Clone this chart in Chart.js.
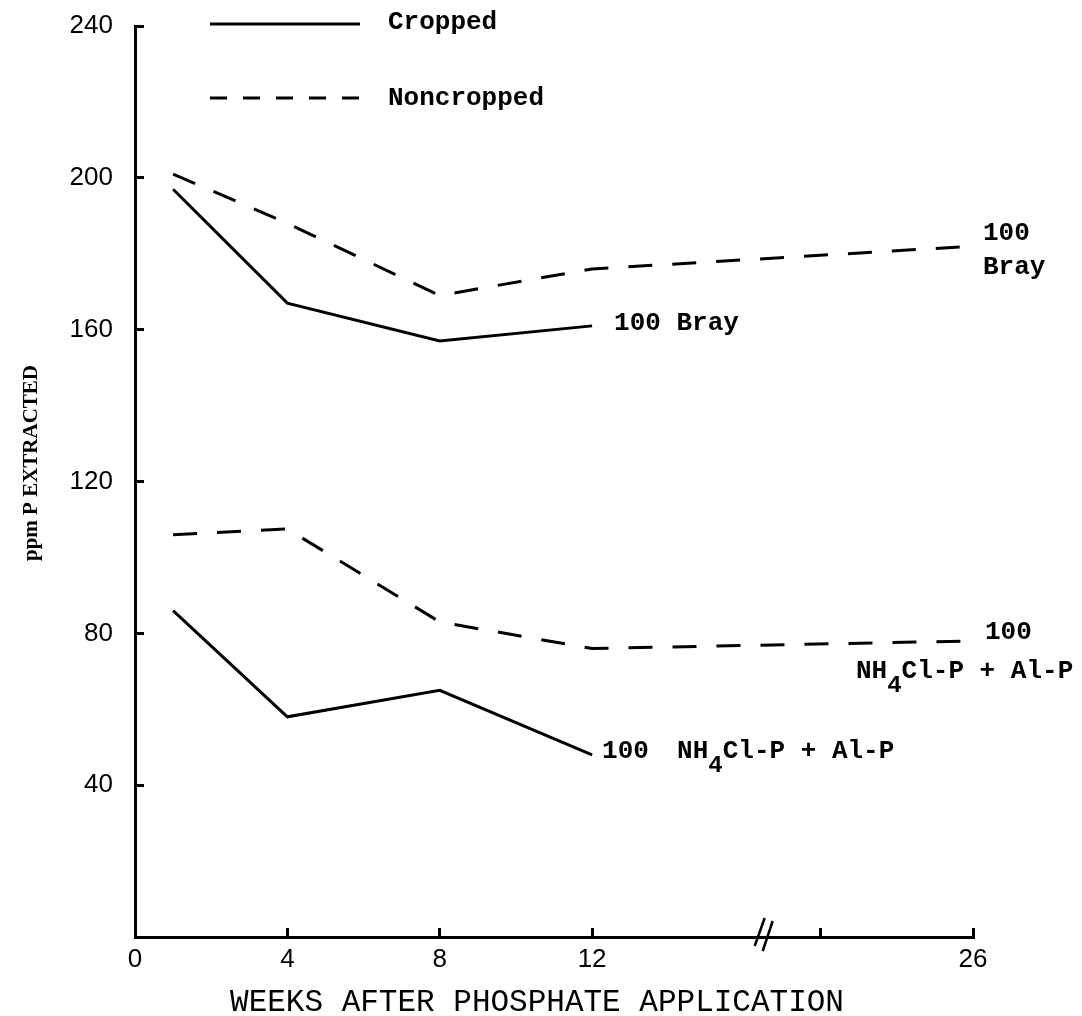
<!DOCTYPE html>
<html>
<head>
<meta charset="utf-8">
<title>ppm P extracted</title>
<script src="https://cdn.jsdelivr.net/npm/chart.js@4.4.1/dist/chart.umd.min.js"></script>
<style>
  body { margin: 0; background: #fff; }
  #wrap { width: 1082px; height: 1016px; }
</style>
</head>
<body>
<div id="wrap"><canvas id="myChart" width="1082" height="1016"></canvas></div>
<script>
// weeks after phosphate application
const weeksCropped = [1, 4, 8, 12];
const weeksNoncropped = [1, 4, 8, 12, 26];

// ppm P extracted
const brayCropped = [197, 167, 157, 161];
const brayNoncropped = [201, 188, 169, 176, 182];
const nh4Cropped = [86, 58, 65, 48];
const nh4Noncropped = [106, 107.5, 83, 76, 78];

// axis ticks (x axis is broken between 12 and 22 weeks)
const xTickWeeks = [0, 4, 8, 12, 22, 26];
const xTickLabels = ["0", "4", "8", "12", "", "26"];
const yTicks = [0, 40, 80, 120, 160, 200, 240];

const breakFrom = 12;
const breakGap = 4;

// weeks past the break are pulled left by breakGap
function axisPos(week) {
  return week <= breakFrom ? week : week - breakGap;
}

function toPoints(weeks, values) {
  return weeks.map((w, i) => ({ x: axisPos(w), y: values[i] }));
}

const mono = "'Liberation Mono', 'DejaVu Sans Mono', monospace";
const sans = "'Liberation Sans', Arial, sans-serif";
const labelFont = "bold 26px " + mono;

// draws "NH4Cl-P + Al-P" with the 4 set low
function drawChem(ctx, x, y) {
  ctx.font = labelFont;
  ctx.fillText("NH", x, y);
  let cx = x + ctx.measureText("NH").width;
  ctx.font = "bold 24px " + mono;
  ctx.fillText("4", cx, y + 14);
  cx += ctx.measureText("4").width;
  ctx.font = labelFont;
  ctx.fillText("Cl-P + Al-P", cx, y);
}

const annotations = {
  id: "annotations",
  afterDraw(chart) {
    const ctx = chart.ctx;
    const xs = chart.scales.x;
    const ys = chart.scales.y;
    ctx.save();
    ctx.fillStyle = "#000";
    ctx.strokeStyle = "#000";
    ctx.textBaseline = "middle";
    ctx.textAlign = "left";
    ctx.font = labelFont;

    // legend
    ctx.lineWidth = 3;
    ctx.beginPath();
    ctx.moveTo(210, 24);
    ctx.lineTo(360, 24);
    ctx.stroke();
    ctx.fillText("Cropped", 388, 22);

    ctx.setLineDash([17, 16]);
    ctx.beginPath();
    ctx.moveTo(210, 98);
    ctx.lineTo(360, 98);
    ctx.stroke();
    ctx.setLineDash([]);
    ctx.fillText("Noncropped", 388, 98);

    // line end labels
    const last = (weeks, values) => ({
      x: xs.getPixelForValue(axisPos(weeks[weeks.length - 1])),
      y: ys.getPixelForValue(values[values.length - 1])
    });

    let p = last(weeksCropped, brayCropped);
    ctx.fillText("100 Bray", p.x + 22, p.y - 2);

    p = last(weeksNoncropped, brayNoncropped);
    ctx.fillText("100", p.x + 10, p.y - 13);
    ctx.fillText("Bray", p.x + 10, p.y + 21);

    p = last(weeksNoncropped, nh4Noncropped);
    ctx.fillText("100", p.x + 12, p.y - 8);
    drawChem(ctx, p.x - 117, p.y + 31);

    p = last(weeksCropped, nh4Cropped);
    ctx.font = labelFont;
    ctx.fillText("100", p.x + 10, p.y - 3);
    drawChem(ctx, p.x + 85, p.y - 3);

    // axis titles
    ctx.textAlign = "center";
    ctx.font = "31px " + mono;
    ctx.fillText("WEEKS AFTER PHOSPHATE APPLICATION", 537, 1003);

    ctx.save();
    ctx.translate(32, 463);
    ctx.rotate(-Math.PI / 2);
    ctx.font = "bold 21px 'Liberation Serif', serif";
    ctx.fillText("ppm P EXTRACTED", 0, 0);
    ctx.restore();

    // axis break
    const xb = xs.getPixelForValue(16.4);
    const yb = ys.bottom;
    ctx.lineWidth = 2.5;
    ctx.beginPath();
    ctx.moveTo(xb - 5, yb + 9);
    ctx.lineTo(xb + 5, yb - 19);
    ctx.moveTo(xb + 3, yb + 14);
    ctx.lineTo(xb + 13, yb - 16);
    ctx.stroke();

    ctx.restore();
  }
};

const lineStyle = {
  borderColor: "#000",
  borderWidth: 3,
  pointRadius: 0,
  tension: 0,
  fill: false,
  borderJoinStyle: "miter"
};

const data = {
  datasets: [
    { label: "Cropped Bray", data: toPoints(weeksCropped, brayCropped), ...lineStyle },
    { label: "Noncropped Bray", data: toPoints(weeksNoncropped, brayNoncropped), ...lineStyle, borderDash: [24, 20] },
    { label: "Cropped NH4Cl-P + Al-P", data: toPoints(weeksCropped, nh4Cropped), ...lineStyle },
    { label: "Noncropped NH4Cl-P + Al-P", data: toPoints(weeksNoncropped, nh4Noncropped), ...lineStyle, borderDash: [24, 20] }
  ]
};

const config = {
  type: "line",
  data: data,
  options: {
    responsive: false,
    animation: false,
    layout: { padding: { left: 0, right: 109, top: 26, bottom: 0 } },
    plugins: {
      legend: { display: false },
      tooltip: { enabled: false }
    },
    scales: {
      x: {
        type: "linear",
        min: 0,
        max: axisPos(26),
        afterBuildTicks: (scale) => {
          scale.ticks = xTickWeeks.map((w) => ({ value: axisPos(w) }));
        },
        afterFit: (scale) => {
          scale.height = 79;
          scale.paddingLeft = 0;
          scale.paddingRight = 0;
        },
        ticks: {
          callback: (value, index) => xTickLabels[index],
          autoSkip: false,
          maxRotation: 0,
          padding: 16,
          color: "#000",
          font: { family: sans, size: 26 }
        },
        grid: { drawOnChartArea: false, tickLength: -9, tickWidth: 3, lineWidth: 3, color: "#000" },
        border: { color: "#000", width: 3 }
      },
      y: {
        min: 0,
        max: 240,
        afterBuildTicks: (scale) => {
          scale.ticks = yTicks.map((v) => ({ value: v }));
        },
        afterFit: (scale) => {
          scale.width = 135;
          scale.paddingTop = 0;
          scale.paddingBottom = 0;
        },
        ticks: {
          callback: (value) => (value === 0 ? "" : value),
          padding: 31,
          color: "#000",
          font: { family: sans, size: 26 }
        },
        grid: { drawOnChartArea: false, tickLength: -9, tickWidth: 3, lineWidth: 3, color: "#000" },
        border: { color: "#000", width: 3 }
      }
    }
  },
  plugins: [annotations]
};

const myChart = new Chart(document.getElementById("myChart"), config);
</script>
</body>
</html>
